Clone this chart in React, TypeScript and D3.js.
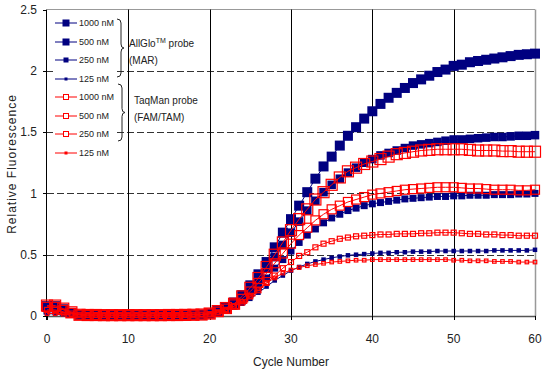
import React from "react";
import * as d3 from "d3";

const cycles = d3.range(0, 61);

const allglo1000 = [0.08,0.08,0.055,0.025,0.008,0.007,0.007,0.006,0.006,0.006,0.006,0.006,0.006,0.006,0.006,0.007,0.007,0.008,0.009,0.011,
  0.02,0.04,0.07,0.11,0.17,0.25,0.34,0.44,0.56,0.68,0.79,
  0.90,1.01,1.12,1.22,1.30,1.39,1.47,1.54,1.61,1.67,
  1.73,1.78,1.82,1.86,1.90,1.93,1.96,1.99,2.01,2.04,
  2.05,2.07,2.08,2.09,2.10,2.11,2.12,2.13,2.135,2.14];
const allglo500 = [0.07,0.07,0.045,0.02,0.008,0.007,0.007,0.006,0.006,0.006,0.006,0.006,0.006,0.006,0.006,0.007,0.007,0.008,0.009,0.011,
  0.02,0.035,0.06,0.10,0.15,0.22,0.30,0.39,0.48,0.58,0.68,
  0.77,0.86,0.94,1.01,1.07,1.12,1.17,1.21,1.25,1.28,
  1.31,1.33,1.35,1.37,1.39,1.40,1.41,1.42,1.43,1.44,
  1.44,1.445,1.45,1.455,1.46,1.46,1.465,1.47,1.47,1.475];
const allglo250 = [0.04,0.04,0.03,0.015,0.008,0.007,0.007,0.006,0.006,0.006,0.006,0.006,0.006,0.006,0.006,0.007,0.007,0.008,0.009,0.01,
  0.015,0.03,0.05,0.08,0.12,0.18,0.24,0.31,0.39,0.46,0.53,
  0.60,0.66,0.71,0.76,0.80,0.83,0.86,0.88,0.90,0.915,
  0.925,0.935,0.945,0.955,0.96,0.965,0.97,0.975,0.975,0.98,
  0.98,0.985,0.985,0.985,0.99,0.99,0.99,0.995,0.995,1.0];
const allglo125 = [0.02,0.02,0.015,0.01,0.008,0.007,0.007,0.006,0.006,0.006,0.006,0.006,0.006,0.006,0.006,0.007,0.007,0.008,0.009,0.01,
  0.015,0.025,0.045,0.07,0.10,0.14,0.19,0.24,0.29,0.33,0.37,
  0.40,0.425,0.445,0.46,0.475,0.485,0.495,0.50,0.505,0.51,
  0.515,0.515,0.52,0.52,0.525,0.525,0.525,0.53,0.53,0.53,
  0.53,0.53,0.53,0.53,0.535,0.535,0.535,0.535,0.535,0.54];
const taqman1000 = [0.085,0.085,0.06,0.03,0.01,0.008,0.008,0.007,0.007,0.007,0.007,0.007,0.007,0.007,0.007,0.008,0.008,0.009,0.01,0.012,
  0.02,0.04,0.065,0.10,0.16,0.23,0.31,0.40,0.50,0.60,0.70,
  0.79,0.87,0.95,1.01,1.07,1.13,1.18,1.21,1.24,1.26,
  1.28,1.30,1.32,1.33,1.34,1.35,1.355,1.36,1.36,1.36,
  1.36,1.355,1.35,1.35,1.35,1.345,1.345,1.34,1.34,1.34];
const taqman500 = [0.075,0.075,0.05,0.025,0.01,0.008,0.008,0.007,0.007,0.007,0.007,0.007,0.007,0.007,0.007,0.008,0.008,0.009,0.01,0.012,
  0.02,0.035,0.06,0.095,0.14,0.20,0.27,0.35,0.43,0.51,0.59,
  0.66,0.72,0.78,0.83,0.87,0.90,0.93,0.95,0.97,0.99,
  1.00,1.01,1.02,1.03,1.035,1.04,1.045,1.05,1.05,1.05,
  1.045,1.04,1.04,1.035,1.03,1.03,1.03,1.025,1.025,1.03];
const taqman250 = [0.05,0.05,0.035,0.02,0.01,0.008,0.008,0.007,0.007,0.007,0.007,0.007,0.007,0.007,0.007,0.008,0.008,0.009,0.01,0.011,
  0.015,0.03,0.05,0.08,0.11,0.16,0.21,0.27,0.33,0.39,0.44,
  0.49,0.52,0.56,0.59,0.61,0.63,0.64,0.65,0.655,0.66,
  0.665,0.665,0.67,0.67,0.67,0.675,0.675,0.68,0.68,0.68,
  0.675,0.67,0.67,0.665,0.665,0.66,0.66,0.655,0.655,0.655];
const taqman125 = [0.02,0.02,0.015,0.01,0.008,0.007,0.007,0.006,0.006,0.006,0.006,0.006,0.006,0.006,0.006,0.007,0.007,0.008,0.009,0.011,
  0.015,0.03,0.05,0.08,0.12,0.16,0.22,0.27,0.31,0.35,0.375,
  0.395,0.41,0.42,0.43,0.44,0.445,0.45,0.455,0.455,0.46,
  0.46,0.46,0.46,0.46,0.46,0.46,0.46,0.46,0.46,0.455,
  0.455,0.45,0.45,0.45,0.445,0.445,0.445,0.44,0.44,0.44];

const seriesLabels = ["1000 nM", "500 nM", "250 nM", "125 nM", "1000 nM", "500 nM", "250 nM", "125 nM"];
const xTicks = [0, 10, 20, 30, 40, 50, 60];
const yTicks = [0, 0.5, 1, 1.5, 2, 2.5];

const NAVY = "#000080";
const RED = "#FF0000";

const series = [
  { values: allglo1000, color: NAVY, filled: true, size: 10, legSize: 7 },
  { values: allglo500, color: NAVY, filled: true, size: 8.5, legSize: 7 },
  { values: allglo250, color: NAVY, filled: true, size: 7, legSize: 5 },
  { values: allglo125, color: NAVY, filled: true, size: 4.5, legSize: 3 },
  { values: taqman1000, color: RED, filled: false, size: 11, legSize: 5 },
  { values: taqman500, color: RED, filled: false, size: 9, legSize: 5 },
  { values: taqman250, color: RED, filled: false, size: 5, legSize: 5 },
  { values: taqman125, color: RED, filled: false, size: 3.5, legSize: 3 },
];

const FONT = "'Liberation Sans', Arial, sans-serif";

export default function App() {
  const W = 544, H = 374;
  const x = d3.scaleLinear().domain([0, 60]).range([47, 535]);
  const y = d3.scaleLinear().domain([0, 2.5]).range([316, 9.5]);
  const line = d3.line<number>().x((_, i) => x(cycles[i])).y((d) => y(d));

  const legendRows = [23, 42, 60, 79, 97, 116, 134, 153];

  const brace = (y0: number, y1: number, xb: number) => {
    const m = (y0 + y1) / 2;
    const xc = xb + 4;
    return `M${xb},${y0} Q${xc},${y0} ${xc},${y0 + 4} L${xc},${m - 4} Q${xc},${m} ${xc + 3},${m} Q${xc},${m} ${xc},${m + 4} L${xc},${y1 - 4} Q${xc},${y1} ${xb},${y1}`;
  };

  return (
    <svg width={W} height={H} style={{ position: "absolute", left: 0, top: 0, background: "#fff" }} fontFamily={FONT}>
      {/* horizontal dashed gridlines */}
      {yTicks.filter((t) => t > 0 && t < 2.5).map((t) => (
        <line key={"hg" + t} x1={x(0)} x2={x(60)} y1={Math.round(y(t)) + 0.5} y2={Math.round(y(t)) + 0.5} stroke="#333" strokeDasharray="7,3" strokeWidth={1} />
      ))}
      {/* top and right border */}
      <line x1={x(0)} x2={x(60)} y1={9.5} y2={9.5} stroke="#999" strokeWidth={1} />
      <line x1={x(60) + 0.5} x2={x(60) + 0.5} y1={9.5} y2={y(0)} stroke="#999" strokeWidth={1.5} />
      {/* vertical gridlines */}
      {xTicks.filter((t) => t > 0 && t < 60).map((t) => (
        <line key={"vg" + t} x1={Math.round(x(t)) + 0.5} x2={Math.round(x(t)) + 0.5} y1={9.5} y2={y(0) + 4} stroke="#000" strokeWidth={1} />
      ))}
      {/* legend background */}
      <rect x={53} y={13} width={64} height={150} fill="#fff" />
      {/* axes */}
      <line x1={x(0) - 0.5} x2={x(0) - 0.5} y1={9.5} y2={y(0) + 4} stroke="#000" strokeWidth={1} />
      <line x1={x(0)} x2={x(60) + 1} y1={y(0) + 0.5} y2={y(0) + 0.5} stroke="#555" strokeWidth={1.5} />
      {yTicks.map((t) => (
        <g key={"yt" + t}>
          <line x1={x(0) - 4} x2={x(0)} y1={Math.round(y(t)) + 0.5} y2={Math.round(y(t)) + 0.5} stroke="#000" />
          <text x={37} y={y(t)} dy="0.35em" textAnchor="end" fontSize={12} fill="#222">{t}</text>
        </g>
      ))}
      {xTicks.map((t) => (
        <g key={"xt" + t}>
          <line x1={Math.round(x(t)) + 0.5} x2={Math.round(x(t)) + 0.5} y1={y(0)} y2={y(0) + 4} stroke="#000" />
          <text x={x(t)} y={343} textAnchor="middle" fontSize={12} fill="#222">{t}</text>
        </g>
      ))}
      <text x={291} y={366} textAnchor="middle" fontSize={12} fill="#222">Cycle Number</text>
      <text transform="translate(16,164) rotate(-90)" textAnchor="middle" fontSize={12} letterSpacing={1} fill="#222">Relative Fluorescence</text>

      {/* series */}
      {series.map((s, si) => (
        <g key={"s" + si}>
          <path d={line(s.values) || ""} fill="none" stroke={s.color} strokeWidth={1} />
          {s.values.map((v, i) => (
            <rect key={i}
              x={x(cycles[i]) - s.size / 2} y={y(v) - s.size / 2}
              width={s.size} height={s.size}
              fill={s.filled ? s.color : "none"}
              stroke={s.color} strokeWidth={s.filled ? 0 : 1.2} />
          ))}
        </g>
      ))}

      {/* legend */}
      {series.map((s, si) => {
        const ly = legendRows[si];
        const sz = s.legSize;
        const filled = s.filled || si === 7;
        return (
          <g key={"lg" + si}>
            <line x1={55} x2={77} y1={ly} y2={ly} stroke={s.color} strokeWidth={1} />
            <rect x={66 - sz / 2} y={ly - sz / 2} width={sz} height={sz} fill={filled ? s.color : "#fff"} stroke={s.color} strokeWidth={filled ? 0 : 1} />
            <text x={79} y={ly} dy="0.35em" fontSize={9} fill="#222">{seriesLabels[si]}</text>
          </g>
        );
      })}
      <path d={brace(19, 77, 117)} fill="none" stroke="#222" strokeWidth={1} />
      <path d={brace(84, 141, 118)} fill="none" stroke="#222" strokeWidth={1} />
      <text x={129} y={47} fontSize={10} fill="#222">AllGlo<tspan fontSize={7} dy={-4}>TM</tspan><tspan dy={4}> probe</tspan></text>
      <text x={129} y={64} fontSize={10} fill="#222">(MAR)</text>
      <text x={134} y={104} fontSize={10} fill="#222">TaqMan probe</text>
      <text x={134} y={121} fontSize={10} fill="#222">(FAM/TAM)</text>
    </svg>
  );
}
